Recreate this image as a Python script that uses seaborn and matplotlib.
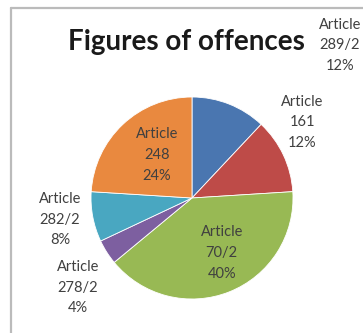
import matplotlib
matplotlib.use("Agg")
import matplotlib.pyplot as plt
import seaborn as sns
import numpy as np

sns.set_theme(style="white")
plt.rcParams['font.family'] = ['Lato', 'DejaVu Sans']

# Data
categories = ["Article\n289/2", "Article\n161", "Article\n70/2", "Article\n278/2", "Article\n282/2", "Article\n248"]
shares = [12, 12, 40, 4, 8, 24]
colors = ["#4A76B0", "#BE4B48", "#98B954", "#7D5FA0", "#49A7C1", "#E9893F"]
title = "Figures of offences"

# label positions (data coords, pie radius = 1)
label_pos = [(1.465, 1.51), (1.09, 0.75), (0.294, -0.545), (-1.13, -0.89), (-1.307, -0.215), (-0.347, 0.426)]

W, H = 363, 333
fig = plt.figure(figsize=(W / 100, H / 100), dpi=100)
fig.patch.set_facecolor("white")

cx, cy, r = 192, 198, 101
ax = fig.add_axes([(cx - r) / W, (H - cy - r) / H, 2 * r / W, 2 * r / H])
ax.pie(shares, colors=colors, startangle=90, counterclock=False, radius=1,
       wedgeprops=dict(edgecolor="white", linewidth=0.6))
ax.set_xlim(-1, 1)
ax.set_ylim(-1, 1)
ax.set_aspect("equal")
ax.axis("off")

total = sum(shares)
for cat, val, (x, y) in zip(categories, shares, label_pos):
    ax.text(x, y, f"{cat}\n{round(100 * val / total)}%", ha="center", va="center",
            fontsize=10.5, color="#404040", linespacing=1.6, clip_on=False)

fig.text(186.5 / W, 1 - 42 / H, title, ha="center", va="center",
         fontsize=20, fontweight="bold", color="#1a1a1a")

# chart frame
fig.add_artist(plt.Line2D([10.7 / W, 10.7 / W], [0, 1 - 7.7 / H], transform=fig.transFigure,
                          color="#BBBBBB", linewidth=1.6))
fig.add_artist(plt.Line2D([10.7 / W, 1], [1 - 7.7 / H, 1 - 7.7 / H], transform=fig.transFigure,
                          color="#BBBBBB", linewidth=1.6))

fig.savefig("out.png", dpi=100)
